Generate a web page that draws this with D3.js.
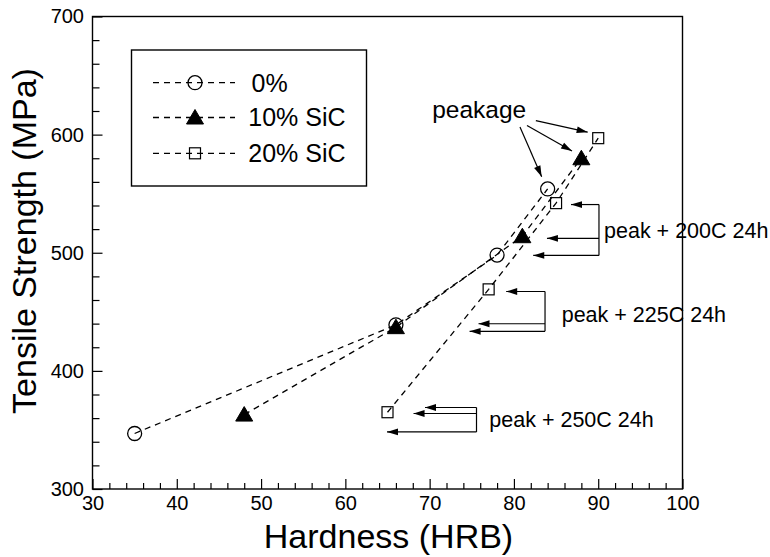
<!DOCTYPE html>
<html>
<head>
<meta charset="utf-8">
<script src="https://cdn.jsdelivr.net/npm/d3@7/dist/d3.min.js"></script>
<style>
  html, body { margin: 0; padding: 0; background: #fff; }
  svg { display: block; font-family: "Liberation Sans", Arial, Helvetica, sans-serif; }
</style>
</head>
<body>
<svg id="chart" width="770" height="557"></svg>
<script>
// ---- data ----
const seriesNames = ["0%", "10% SiC", "20% SiC"];
const hardness0 = [35, 66, 78, 84];
const strength0 = [347, 439, 498, 554];
const hardness10 = [48, 66, 81, 88];
const strength10 = [363, 437, 514, 580];
const hardness20 = [65, 77, 85, 90];
const strength20 = [365, 469, 542, 597];
const xTicks = [30, 40, 50, 60, 70, 80, 90, 100];
const yTicks = [300, 400, 500, 600, 700];
const xTitle = "Hardness (HRB)";
const yTitle = "Tensile Strength (MPa)";
// annotations (data coordinates)
const peakText = "peakage";
const peakTextPos = [70.3, 613.8];
const peakArrows = [[82.6, 611.8, 88.75, 602.1], [81.55, 607.7, 86.89, 586.1], [80.72, 606.5, 83.29, 564.4]];
const bracketLabels = ["peak + 200C 24h", "peak + 225C 24h", "peak + 250C 24h"];
const bracketLabelPos = [[90.69, 512.5], [85.67, 441.1], [77.08, 352.7]];
const bracketBarX = [90.09, 83.69, 75.56];
const bracketArrowY = [[540.8, 512.2, 497.7], [467.2, 439.9, 433.5], [369.0, 363.9, 348.3]];
const bracketArrowTipX = [[86.77, 83.92, 82.29], [79.08, 75.80, 74.74], [69.45, 68.09, 64.94]];

// ---- layout ----
const svg = d3.select("#chart");
const x = d3.scaleLinear().domain([30, 100]).range([92.5, 682.5]);
const y = d3.scaleLinear().domain([300, 700]).range([489, 16.5]);
const ink = "#000";

const defs = svg.append("defs");
defs.append("marker").attr("id", "ah").attr("markerUnits", "userSpaceOnUse")
  .attr("viewBox", "-12 -5 13 10").attr("refX", 0).attr("refY", 0)
  .attr("markerWidth", 13).attr("markerHeight", 10).attr("orient", "auto")
  .append("path").attr("d", "M0,0L-11,-3.4L-11,3.4Z").attr("fill", ink);

// minor ticks
const xMinor = d3.range(30, 100.01, 2).filter(v => v % 10 !== 0);
const yMinor = d3.range(300, 700.01, 20).filter(v => v % 100 !== 0);

const gx = svg.append("g").attr("transform", `translate(0,${y.range()[0]})`);
gx.call(d3.axisBottom(x).tickValues(xMinor).tickSize(-6).tickSizeOuter(0).tickFormat(""));
gx.select(".domain").remove();
const gx2 = svg.append("g").attr("transform", `translate(0,${y.range()[0]})`);
gx2.call(d3.axisBottom(x).tickValues(xTicks).tickSize(-10).tickSizeOuter(0).tickPadding(7).tickFormat(d3.format("d")));
gx2.select(".domain").remove();
gx2.selectAll("text").attr("font-size", 20).attr("fill", ink).attr("font-family", "Liberation Sans, Arial, sans-serif");

const gy = svg.append("g").attr("transform", `translate(${x.range()[0]},0)`);
gy.call(d3.axisLeft(y).tickValues(yMinor).tickSize(-7).tickSizeOuter(0).tickFormat(""));
gy.select(".domain").remove();
const gy2 = svg.append("g").attr("transform", `translate(${x.range()[0]},0)`);
gy2.call(d3.axisLeft(y).tickValues(yTicks).tickSize(-10).tickSizeOuter(0).tickPadding(8.5).tickFormat(d3.format("d")));
gy2.select(".domain").remove();
gy2.selectAll("text").attr("font-size", 20).attr("fill", ink).attr("font-family", "Liberation Sans, Arial, sans-serif");
svg.selectAll(".tick line").attr("stroke", ink).attr("stroke-width", 1.2);

// frame
svg.append("rect")
  .attr("x", x.range()[0]).attr("y", y.range()[1])
  .attr("width", x.range()[1] - x.range()[0]).attr("height", y.range()[0] - y.range()[1])
  .attr("fill", "none").attr("stroke", ink).attr("stroke-width", 1.4);

// titles
svg.append("text").attr("x", (x.range()[0] + x.range()[1]) / 2 + 1).attr("y", 548)
  .attr("text-anchor", "middle").attr("font-size", 34).attr("fill", ink).text(xTitle);
svg.append("text").attr("transform", "translate(35.5,241) rotate(-90)")
  .attr("text-anchor", "middle").attr("font-size", 34).attr("fill", ink).text(yTitle);

// series
const series = [
  {name: seriesNames[0], hx: hardness0, sy: strength0, shape: "circle"},
  {name: seriesNames[1], hx: hardness10, sy: strength10, shape: "triangle"},
  {name: seriesNames[2], hx: hardness20, sy: strength20, shape: "square"}
];
const line = d3.line().x(d => x(d[0])).y(d => y(d[1]));
const dash = "6,5";

function drawMarker(g, shape, cx, cy) {
  if (shape === "circle") {
    g.append("circle").attr("cx", cx).attr("cy", cy).attr("r", 7)
      .attr("fill", "none").attr("stroke", ink).attr("stroke-width", 1.3);
  } else if (shape === "triangle") {
    g.append("path").attr("d", `M${cx},${cy - 8}L${cx + 8.5},${cy + 6.5}L${cx - 8.5},${cy + 6.5}Z`)
      .attr("fill", ink).attr("stroke", ink).attr("stroke-width", 1);
  } else {
    g.append("rect").attr("x", cx - 5.5).attr("y", cy - 5.5).attr("width", 11).attr("height", 11)
      .attr("fill", "none").attr("stroke", ink).attr("stroke-width", 1.2);
  }
}

series.forEach(s => {
  const pts = s.hx.map((h, i) => [h, s.sy[i]]);
  svg.append("path").attr("d", line(pts)).attr("fill", "none")
    .attr("stroke", ink).attr("stroke-width", 1.3).attr("stroke-dasharray", dash);
  const g = svg.append("g");
  pts.forEach(p => drawMarker(g, s.shape, x(p[0]), y(p[1])));
});

// legend
const lg = svg.append("g");
lg.append("rect").attr("x", 131.5).attr("y", 50).attr("width", 235).attr("height", 136)
  .attr("fill", "#fff").attr("stroke", ink).attr("stroke-width", 1.4);
const rowY = [82.7, 117.5, 153.3];
series.forEach((s, i) => {
  lg.append("line").attr("x1", 153).attr("x2", 235).attr("y1", rowY[i]).attr("y2", rowY[i])
    .attr("stroke", ink).attr("stroke-width", 1.3).attr("stroke-dasharray", dash);
  drawMarker(lg, s.shape, 195, rowY[i]);
  lg.append("text").attr("x", i === 0 ? 251.5 : 248.3).attr("y", rowY[i] + 8.8)
    .attr("font-size", 25).attr("fill", ink).text(s.name);
});

// annotations
const ann = svg.append("g");
ann.append("text").attr("x", x(peakTextPos[0])).attr("y", y(peakTextPos[1]))
  .attr("font-size", 24.5).attr("fill", ink).text(peakText);
peakArrows.forEach(a => {
  ann.append("line").attr("x1", x(a[0])).attr("y1", y(a[1])).attr("x2", x(a[2])).attr("y2", y(a[3]))
    .attr("stroke", ink).attr("stroke-width", 1.2).attr("marker-end", "url(#ah)");
});
bracketLabels.forEach((lab, i) => {
  const bx = x(bracketBarX[i]);
  const ys = bracketArrowY[i].map(v => y(v));
  ann.append("line").attr("x1", bx).attr("x2", bx).attr("y1", d3.min(ys)).attr("y2", d3.max(ys))
    .attr("stroke", ink).attr("stroke-width", 1.2);
  ys.forEach((yy, j) => {
    ann.append("line").attr("x1", bx).attr("y1", yy).attr("x2", x(bracketArrowTipX[i][j])).attr("y2", yy)
      .attr("stroke", ink).attr("stroke-width", 1.2).attr("marker-end", "url(#ah)");
  });
  ann.append("text").attr("x", x(bracketLabelPos[i][0])).attr("y", y(bracketLabelPos[i][1]))
    .attr("font-size", 21.5).attr("fill", ink).text(lab);
});
</script>
</body>
</html>
